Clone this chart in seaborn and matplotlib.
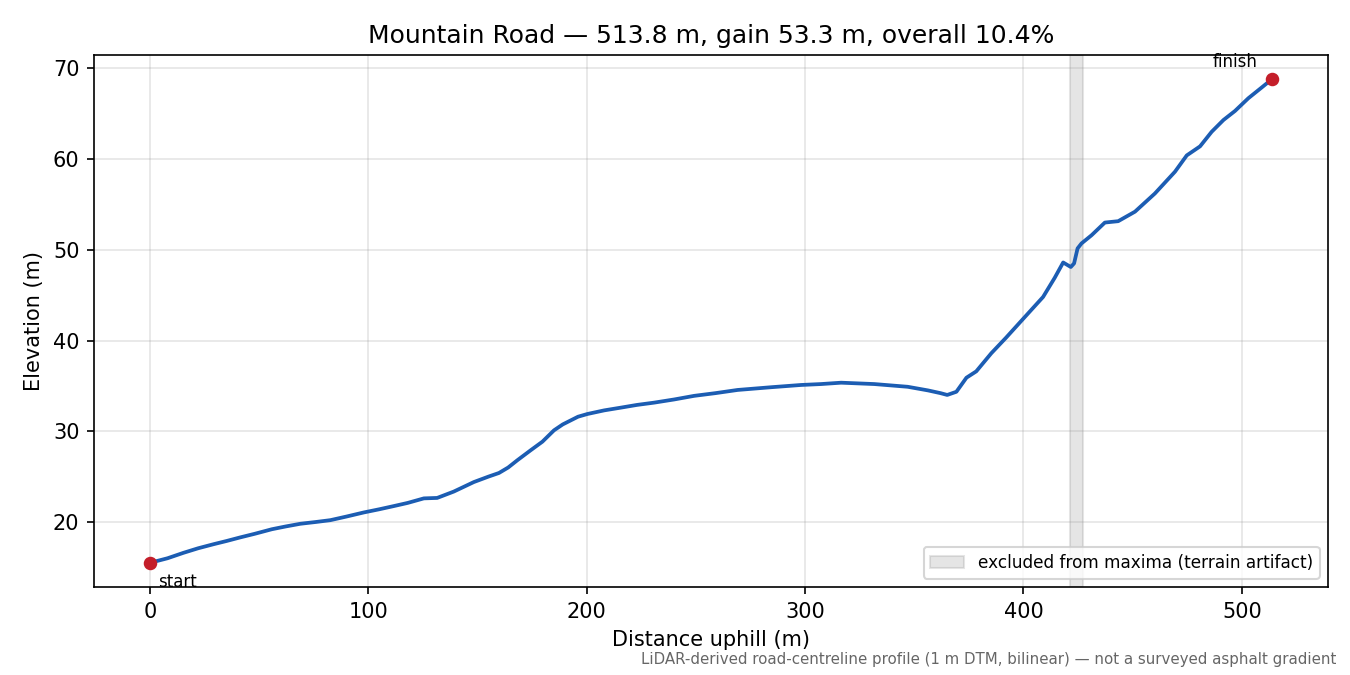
import pandas as pd
import seaborn as sns
import matplotlib.pyplot as plt
from matplotlib.patches import Patch

# perfil (distancia en m, elevacion en m)
distance = [0, 8, 15.3, 22, 29.1, 35, 41.3, 48, 55.8, 62, 68.8, 76, 82.6, 90, 97.9,
            105, 111.6, 118, 125.4, 131.5, 139.1, 148.3, 155, 159.8, 164, 168.2, 174.3,
            179.7, 185, 189, 192.7, 196, 200.3, 208, 215.6, 223, 230.8, 240, 249.2, 259, 269.1,
            284.4, 298.2, 307.3, 316.5, 331.7, 347, 356.3, 362, 365.1, 369.3, 373.9,
            378.4, 385.3, 392, 400.3, 409, 414.3, 418.2, 421.7, 423.2, 424.8, 426.6,
            431.2, 437.3, 443.4, 451.1, 460.2, 469.4, 474.8, 480.9, 486.2, 491.6,
            496.9, 503, 509.2, 513.8]
elevation = [15.5, 16.0, 16.6, 17.1, 17.55, 17.9, 18.3, 18.7, 19.2, 19.5, 19.8, 20.0, 20.2,
             20.6, 21.05, 21.4, 21.75, 22.1, 22.6, 22.65, 23.35, 24.4, 25.0, 25.4, 26.0,
             26.8, 27.9, 28.85, 30.1, 30.75, 31.2, 31.6, 31.9, 32.3, 32.6, 32.9, 33.15, 33.5, 33.9,
             34.2, 34.55, 34.85, 35.1, 35.2, 35.35, 35.2, 34.9, 34.5, 34.2, 34.0, 34.35,
             35.9, 36.6, 38.6, 40.3, 42.5, 44.8, 46.9, 48.6, 48.1, 48.5, 50.15, 50.7,
             51.6, 53.0, 53.15, 54.2, 56.2, 58.6, 60.4, 61.4, 63.0, 64.3, 65.3, 66.7,
             67.9, 68.8]

# tramo excluido (artefacto del terreno)
excluded = (421.5, 427.5)

title = "Mountain Road \u2014 513.8 m, gain 53.3 m, overall 10.4%"
footer = "LiDAR-derived road-centreline profile (1 m DTM, bilinear) \u2014 not a surveyed asphalt gradient"

df = pd.DataFrame({"distance": distance, "elevation": elevation})

sns.set_style("ticks")
plt.rcParams["font.family"] = ["DejaVu Sans"]
plt.rcParams["text.color"] = "black"
plt.rcParams["axes.labelcolor"] = "black"
plt.rcParams["xtick.color"] = "black"
plt.rcParams["ytick.color"] = "black"
plt.rcParams["axes.edgecolor"] = "black"

fig, ax = plt.subplots(figsize=(9, 4.5), dpi=150)
fig.subplots_adjust(left=0.0696, right=0.9837, top=0.9185, bottom=0.1304)

ax.axvspan(excluded[0], excluded[1], color="0.5", alpha=0.2, zorder=1)
sns.lineplot(data=df, x="distance", y="elevation", ax=ax, color="#1c5db3", lw=1.8, zorder=3)

# puntos de inicio y final
ends = df.iloc[[0, -1]]
ax.scatter(ends["distance"], ends["elevation"], color="#c41e2a", s=30, zorder=4)
ax.annotate("start", (df["distance"].iloc[0], df["elevation"].iloc[0]), xytext=(4, -5),
            textcoords="offset points", ha="left", va="top", fontsize=8)
ax.annotate("finish", (df["distance"].iloc[-1], df["elevation"].iloc[-1]), xytext=(-7, 4),
            textcoords="offset points", ha="right", va="bottom", fontsize=8)

ax.grid(True, color="0.5", alpha=0.2, lw=0.8)
ax.set_axisbelow(True)
ax.set_xlabel("Distance uphill (m)")
ax.set_ylabel("Elevation (m)")
ax.set_title(title, fontsize=12)

handle = Patch(facecolor="0.5", edgecolor="0.5", alpha=0.2, label="excluded from maxima (terrain artifact)")
ax.legend(handles=[handle], loc="lower right", fontsize=8.1)

fig.text(0.99, 0.012, footer, ha="right", va="bottom", fontsize=7.2, color="0.4")

plt.savefig("out.png", dpi=150)
